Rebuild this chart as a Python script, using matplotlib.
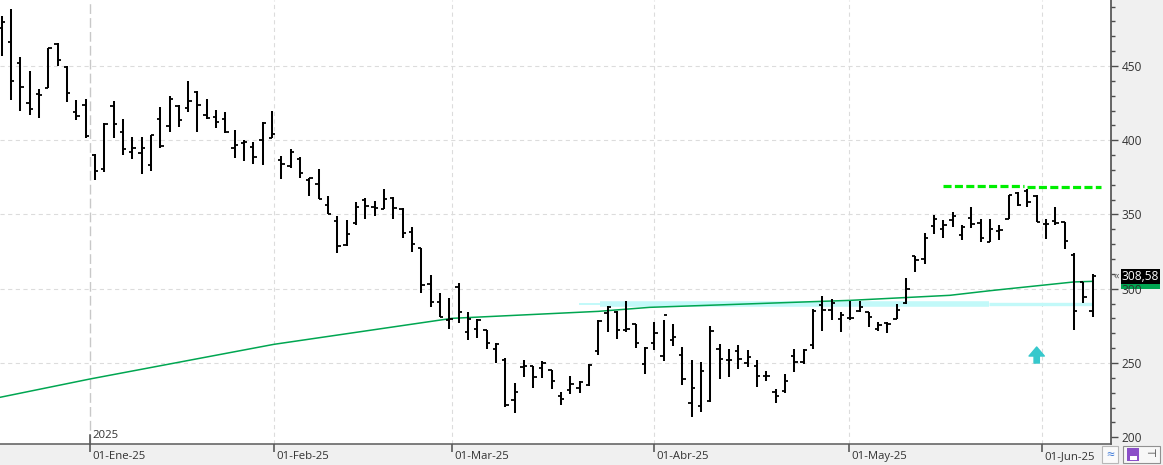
import matplotlib
matplotlib.use("Agg")
import matplotlib.pyplot as plt
import matplotlib.transforms as mtransforms
from matplotlib.patches import Rectangle
import numpy as np

plt.rcParams["font.family"] = ["Open Sans", "DejaVu Sans"]
plt.rcParams["lines.scale_dashes"] = False

# daily OHLC, one entry per session (17-Dic-24 .. 09-Jun-25)
opens = [
    475.6, 466.1, 452.0, 425.1, 431.1, 435.2, 464.8, 449.3, 419.0, 423.7,
    390.1, 380.6, 423.0, 405.5, 392.1, 391.4, 383.3, 414.3, 409.6, 423.0,
    421.7, 432.5, 417.0, 415.6, 414.3, 394.8, 398.1, 395.4, 400.1, 401.5,
    386.7, 382.6, 387.4, 373.0, 370.5, 356.2, 345.8, 329.7, 344.5, 359.8,
    354.9, 353.5, 361.3, 353.7, 338.0, 327.2, 303.4, 290.9, 279.0, 301.0,
    270.9, 272.7, 272.2, 259.2, 252.0, 224.9, 247.1, 247.8, 246.9, 245.3,
    227.6, 232.0, 233.2, 235.0, 258.1, 283.9, 284.4, 272.0, 276.1, 249.2,
    263.5, 254.6, 265.3, 255.2, 222.9, 221.3, 224.2, 259.4, 251.8, 258.3,
    250.2, 248.0, 241.5, 230.5, 231.2, 254.5, 250.7, 261.9, 289.1, 285.7,
    279.6, 280.3, 284.8, 284.4, 272.9, 276.7, 279.6, 290.2, 322.1, 319.8,
    342.5, 340.4, 346.3, 336.0, 347.4, 344.5, 331.7, 339.1, 347.2, 364.7,
    365.6, 362.3, 343.4, 345.8, 345.1, 322.9, 304.8, 285.2]
highs = [
    483.6, 488.3, 456.0, 446.6, 434.5, 462.1, 465.5, 450.0, 427.1, 427.8,
    390.7, 411.6, 426.4, 414.3, 402.2, 402.2, 403.5, 422.4, 429.8, 423.7,
    439.9, 433.1, 427.8, 420.3, 419.0, 406.9, 400.1, 398.8, 412.3, 419.7,
    389.4, 394.1, 388.6, 374.8, 380.6, 362.5, 349.0, 346.3, 358.4, 361.3,
    359.1, 367.2, 362.0, 354.6, 341.8, 327.2, 309.1, 296.9, 293.6, 303.7,
    284.4, 279.6, 272.4, 263.3, 253.4, 236.8, 252.0, 248.0, 251.4, 245.5,
    230.3, 241.3, 237.7, 249.2, 279.0, 288.4, 285.3, 291.8, 276.3, 260.6,
    277.5, 279.0, 276.3, 260.6, 251.8, 250.9, 274.9, 262.6, 259.2, 261.9,
    258.6, 251.8, 244.4, 232.3, 242.4, 259.2, 259.2, 286.6, 295.1, 292.9,
    284.2, 291.8, 291.6, 284.6, 277.4, 277.4, 289.7, 307.3, 322.1, 337.5,
    349.5, 346.3, 351.5, 342.7, 355.0, 346.8, 347.0, 342.7, 363.3, 365.1,
    367.2, 363.1, 346.8, 355.0, 345.1, 324.3, 304.8, 309.8]
lows = [
    456.7, 427.1, 419.7, 417.0, 415.0, 435.2, 450.0, 425.7, 413.6, 401.5,
    373.2, 378.6, 401.5, 390.1, 387.4, 377.3, 379.3, 394.8, 405.5, 408.9,
    419.0, 405.5, 414.3, 408.2, 404.9, 388.0, 386.0, 384.0, 383.3, 401.5,
    373.9, 381.3, 374.8, 362.7, 360.2, 350.1, 324.3, 329.0, 342.9, 347.2,
    349.2, 353.5, 347.2, 334.0, 324.6, 297.0, 287.5, 280.8, 273.1, 277.2,
    265.5, 267.1, 259.4, 250.2, 220.6, 216.6, 240.8, 233.4, 240.1, 232.7,
    222.0, 229.2, 229.6, 234.3, 255.6, 271.1, 266.4, 270.9, 260.3, 242.8,
    258.8, 251.4, 261.3, 235.4, 213.9, 217.0, 223.8, 239.1, 240.8, 245.8,
    247.1, 233.7, 237.7, 222.9, 229.6, 244.2, 249.4, 259.2, 271.6, 279.0,
    270.7, 279.2, 284.6, 274.1, 271.6, 270.4, 279.4, 289.7, 311.1, 316.5,
    336.7, 334.4, 341.8, 333.0, 341.1, 331.7, 331.3, 333.0, 347.2, 355.5,
    355.2, 344.7, 333.3, 342.9, 327.0, 272.2, 290.6, 281.2]
closes = [
    479.6, 439.9, 435.8, 421.0, 430.4, 462.1, 454.0, 431.8, 416.3, 402.8,
    379.3, 410.9, 410.9, 394.1, 394.8, 394.8, 403.5, 396.1, 427.8, 413.6,
    426.4, 423.7, 415.0, 412.3, 405.5, 396.8, 398.8, 388.7, 411.6, 404.2,
    384.0, 392.1, 377.7, 374.6, 360.4, 350.1, 328.6, 336.7, 355.2, 355.5,
    354.4, 360.4, 354.2, 337.3, 329.9, 302.3, 290.9, 281.2, 279.6, 284.6,
    279.4, 278.8, 263.5, 262.8, 222.0, 230.3, 247.8, 240.4, 250.2, 237.9,
    225.8, 235.7, 237.0, 248.7, 278.3, 287.7, 272.0, 273.1, 263.5, 259.9,
    270.0, 282.5, 267.3, 239.1, 233.0, 244.8, 271.4, 252.5, 251.8, 252.7,
    253.9, 241.1, 241.1, 227.6, 238.1, 250.7, 259.0, 284.8, 285.7, 290.2,
    282.5, 280.3, 287.9, 281.0, 275.8, 276.5, 285.5, 299.8, 319.4, 334.2,
    347.2, 343.1, 349.2, 341.8, 343.8, 334.4, 340.4, 339.6, 363.3, 356.6,
    358.2, 345.2, 343.8, 344.1, 332.0, 284.8, 294.7, 308.58]

# long moving average at a few sessions
ma_idx = [-0.2, 9.5, 29.2, 48.3, 64, 69.5, 91, 101.7, 106, 115, 117]
ma_val = [226.9, 239.3, 262.6, 280.1, 284.8, 287.5, 292.2, 295.6, 298.7, 304.6, 305.0]

month_pos = [9.5, 29.2, 48.3, 70, 90.9, 111.6]
month_labels = ["01-Ene-25", "01-Feb-25", "01-Mar-25", "01-Abr-25", "01-May-25", "01-Jun-25"]

support = 289.9
resist_a = 369.4
resist_b = 368.3
arrow_idx = 111
arrow_from, arrow_to = 250.0, 260.8

W, H = 1163, 465
fig = plt.figure(figsize=(W / 100, H / 100), dpi=100, facecolor="#f0f0f0")
ax = fig.add_axes([0, 21 / H, 1111 / W, 444 / H])
ax.set_facecolor("white")
ax.set_xlim(-0.18, 118.97)
ax.set_ylim(195.5, 494.4)

# grid
for v in [250, 300, 350, 400, 450]:
    ax.axhline(v, color="#dcdcdc", lw=0.8, ls=(0, (3, 2.5)), zorder=0.5)
for p in month_pos[1:]:
    ax.axvline(p, color="#dcdcdc", lw=0.8, ls=(0, (3, 2.5)), zorder=0.5)
ax.axvline(month_pos[0], color="#c8c8c8", lw=1.0, ls=(0, (7, 3)), zorder=0.5)

# support band
band = "#c2f9f9"
ax.plot([61.9, 64.2], [support] * 2, color=band, lw=1.4, solid_capstyle="butt", zorder=1)
ax.plot([64.2, 105.9], [support] * 2, color=band, lw=4.0, solid_capstyle="butt", zorder=1)
ax.plot([105.9, 117.0], [support] * 2, color=band, lw=2.4, solid_capstyle="butt", zorder=1)

# moving average
ax.plot(ma_idx, ma_val, color="#00a651", lw=1.1, zorder=3)

# resistance
ax.plot([101.0, 109.6], [resist_a] * 2, color="#00ee00", lw=2.3, dashes=(5.8, 2.4), zorder=3)
ax.plot([110.0, 117.9], [resist_b] * 2, color="#00ee00", lw=2.3, dashes=(5.8, 2.4), zorder=3)

# OHLC bars
x = np.arange(len(closes))
ax.vlines(x, lows, highs, color="black", lw=1.45, zorder=4)
ax.hlines(opens, x - 0.36, x, color="black", lw=1.3, zorder=4)
ax.hlines(closes, x, x + 0.36, color="black", lw=1.3, zorder=4)

ax.annotate("", xy=(arrow_idx, arrow_to), xytext=(arrow_idx, arrow_from),
            arrowprops=dict(arrowstyle="simple,head_length=0.65,head_width=1.1,tail_width=0.38",
                            color="#36c8cc", mutation_scale=10, shrinkA=0, shrinkB=0), zorder=5)

# axes
ax.spines["top"].set_visible(False)
ax.spines["left"].set_visible(False)
ax.spines["right"].set_color("#4d4d4d")
ax.spines["right"].set_linewidth(1.2)
ax.spines["bottom"].set_color("#5a5a5a")
ax.spines["bottom"].set_linewidth(1.1)

ax.yaxis.tick_right()
ax.set_yticks([200, 250, 300, 350, 400, 450])
ax.set_yticks(np.arange(200, 500, 10), minor=True)
ax.tick_params(axis="y", which="major", length=5, width=1, color="#4d4d4d",
               pad=2.4, labelsize=8.6, labelcolor="#333333")
ax.tick_params(axis="y", which="minor", length=3.1, width=1, color="#4d4d4d")

ax.set_xticks(month_pos, month_labels)
ax.tick_params(axis="x", length=5.8, width=1.1, color="#4d4d4d", labelsize=8.2,
               labelcolor="#333333", pad=-0.5)
offset = mtransforms.ScaledTranslation(2 / 100, 0, fig.dpi_scale_trans)
for lab in ax.get_xticklabels():
    lab.set_horizontalalignment("left")
    lab.set_transform(lab.get_transform() + offset)

xtrans = mtransforms.blended_transform_factory(ax.transData, ax.transAxes)
ax.text(month_pos[0], 0.007, "2025", transform=xtrans + offset, ha="left", va="bottom",
        fontsize=8.2, color="#333333")
ax.plot([month_pos[0]] * 2, [0, 0.02], transform=xtrans, color="#4d4d4d", lw=1.1, clip_on=False)

# last value labels
ytrans = mtransforms.blended_transform_factory(ax.transAxes, ax.transData)
bx, bw, bh = 1120.7 / 1111, 39.3 / 1111, 10.1
ax.add_patch(Rectangle((bx, ma_val[-1] - bh / 2), bw, bh, transform=ytrans,
                       fc="#00a651", ec="none", clip_on=False, zorder=1.2))
ax.add_patch(Rectangle((bx, closes[-1] - bh / 2), bw, bh, transform=ytrans,
                       fc="black", ec="none", clip_on=False, zorder=10))
ax.text(bx + bw / 2, closes[-1], f"{closes[-1]:.2f}".replace(".", ","), transform=ytrans,
        ha="center", va="center", fontsize=8.6, color="white", clip_on=False, zorder=11)
ax.text(1116 / 1111, closes[-1], "«", transform=ytrans, ha="center", va="center",
        fontsize=8, color="#555555", clip_on=False, zorder=11)

# small buttons bottom right
fig.add_artist(Rectangle((1101.7 / W, 1 - 463.3 / H), 16.6 / W, 17.3 / H, transform=fig.transFigure,
                         fc="#fafafa", ec="#b8b8b8", lw=0.8))
fig.text(1110 / W, 1 - 455 / H, "≈", color="#3b78d8", ha="center", va="center", fontsize=10)
fig.add_artist(Rectangle((1123 / W, 1 - 463.3 / H), 37 / W, 17.3 / H, transform=fig.transFigure,
                         fc="#f7f7f7", ec="#909090", lw=0.8))
fig.add_artist(Rectangle((1127 / W, 1 - 461 / H), 12 / W, 13 / H, transform=fig.transFigure,
                         fc="#8b4fc8", ec="none"))
fig.add_artist(Rectangle((1129.5 / W, 1 - 460 / H), 7 / W, 4 / H, transform=fig.transFigure,
                         fc="white", ec="none"))
fig.text(1151 / W, 1 - 454.5 / H, "⊣", color="#333333", ha="center", va="center", fontsize=8)

fig.savefig("out.png", dpi=100, facecolor=fig.get_facecolor())
